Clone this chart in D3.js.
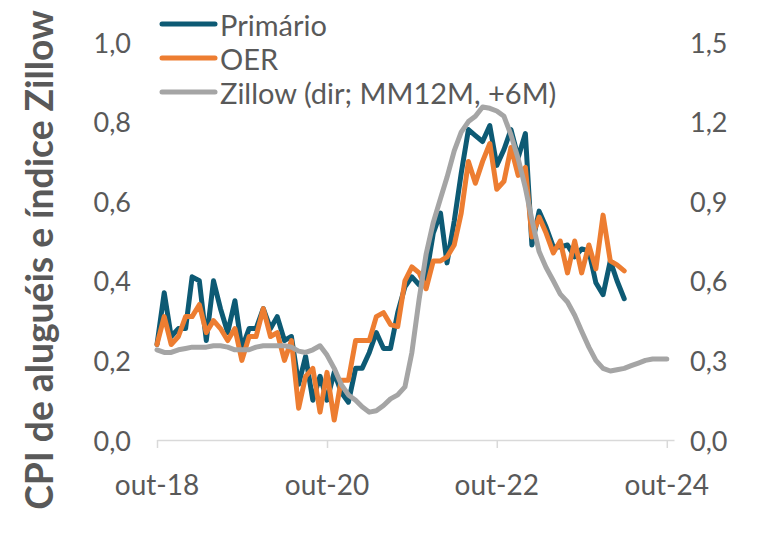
<!DOCTYPE html>
<html><head><meta charset="utf-8">
<script src="https://cdn.jsdelivr.net/npm/d3@7"></script>
<style>
body{margin:0;background:#fff}
svg{display:block}
text{font-family:Lato,'Open Sans',sans-serif;fill:#595959}
</style>
</head><body>
<svg id="c" width="758" height="539"></svg>
<script>
// ---- data (monthly % change) ----
const seriesNames = ["Primário", "OER", "Zillow (dir; MM12M, +6M)"];
const cpiStart = [2018, 9];      // out-18 (month index 0-based)
const zillowStart = [2018, 9];
const primario = [0.24,0.37,0.26,0.28,0.28,0.41,0.40,0.25,0.40,0.33,
  0.27,0.35,0.23,0.28,0.28,0.33,0.28,0.31,0.25,0.26,
  0.14,0.21,0.10,0.16,0.10,0.17,0.12,0.095,0.18,0.18,
  0.22,0.27,0.23,0.23,0.32,0.385,0.41,0.39,0.41,0.52,
  0.57,0.445,0.55,0.67,0.78,0.765,0.75,0.79,0.69,0.73,
  0.78,0.71,0.77,0.49,0.575,0.535,0.485,0.485,0.49,0.46,
  0.48,0.475,0.395,0.365,0.45,0.40,0.355];
const oer = [0.24,0.31,0.24,0.26,0.31,0.31,0.34,0.27,0.30,0.28,
  0.25,0.28,0.20,0.26,0.26,0.33,0.26,0.27,0.20,0.25,
  0.08,0.16,0.18,0.07,0.17,0.05,0.15,0.15,0.25,0.25,
  0.25,0.31,0.32,0.29,0.285,0.40,0.435,0.42,0.38,0.45,
  0.45,0.46,0.49,0.57,0.70,0.645,0.70,0.745,0.63,0.65,
  0.735,0.665,0.685,0.51,0.56,0.52,0.47,0.50,0.42,0.50,
  0.42,0.49,0.43,0.565,0.45,0.44,0.425];
const zillow = [0.34,0.33,0.33,0.34,0.345,0.35,0.35,0.35,0.355,0.355,
  0.35,0.34,0.34,0.34,0.35,0.355,0.355,0.355,0.355,0.35,
  0.335,0.33,0.34,0.355,0.32,0.27,0.21,0.17,0.15,0.125,
  0.105,0.11,0.13,0.155,0.17,0.20,0.33,0.53,0.70,0.82,
  0.91,0.99,1.09,1.16,1.20,1.22,1.255,1.25,1.24,1.22,
  1.15,1.06,0.95,0.83,0.71,0.65,0.60,0.55,0.52,0.47,
  0.41,0.35,0.30,0.27,0.26,0.265,0.27,0.28,0.29,0.30,
  0.305,0.305,0.305];
const leftTicks = [0, 0.2, 0.4, 0.6, 0.8, 1.0];
const rightTicks = [0, 0.3, 0.6, 0.9, 1.2, 1.5];
const xTickLabels = ["out-18", "out-20", "out-22", "out-24"];
const xTickDates = [[2018, 9], [2020, 9], [2022, 9], [2024, 9]];
const yTitle = "CPI de aluguéis e índice Zillow";
const colors = ["#0d5a74", "#ed7d31", "#a5a5a5"];

// ---- layout ----
const L = 157, R = 674, T = 42, B = 440;
const svg = d3.select("#c");
const x = d3.scaleTime().domain([new Date(2018, 9, 1), new Date(2024, 10, 1)]).range([L, R]);
const yL = d3.scaleLinear().domain([0, 1.0]).range([B, T]);
const yR = d3.scaleLinear().domain([0, 1.5]).range([B, T]);
const fmt = v => d3.format(".1f")(v).replace(".", ",");
const toPts = (arr, start) => arr.map((v, i) => ({d: new Date(start[0], start[1] + i, 1), v}));

// axis (bottom)
const xAxis = d3.axisBottom(x)
  .tickValues(xTickDates.map(d => new Date(d[0], d[1], 1)))
  .tickSize(8).tickSizeOuter(0).tickFormat("");
const gx = svg.append("g").attr("transform", `translate(0,${B})`).call(xAxis);
gx.select(".domain").attr("stroke", "#d9d9d9").attr("stroke-width", 1.5);
gx.selectAll(".tick line").attr("stroke", "#d9d9d9").attr("stroke-width", 1.5);
gx.selectAll(".tick text").remove();
svg.append("g").selectAll("text").data(xTickDates).join("text")
  .attr("x", d => x(new Date(d[0], d[1], 1))).attr("y", 484)
  .attr("text-anchor", "middle").attr("dominant-baseline", "central")
  .attr("font-size", 28).text((d, i) => xTickLabels[i]);

// left / right labels
svg.append("g").selectAll("text").data(leftTicks).join("text")
  .attr("x", 131).attr("y", d => yL(d)).attr("text-anchor", "end")
  .attr("dominant-baseline", "central").attr("font-size", 27).text(fmt);
svg.append("g").selectAll("text").data(rightTicks).join("text")
  .attr("x", 690).attr("y", d => yR(d)).attr("text-anchor", "start")
  .attr("dominant-baseline", "central").attr("font-size", 27).text(fmt);

// title
const tt = svg.append("text").attr("font-weight", "bold").attr("font-size", 30)
  .attr("text-anchor", "middle").attr("dominant-baseline", "central")
  .attr("transform", "translate(38,260) rotate(-90)").text(yTitle);
const w = tt.node().getComputedTextLength();
tt.attr("font-size", 30 * 500 / w);

// lines
const lineL = d3.line().x(d => x(d.d)).y(d => yL(d.v));
const lineR = d3.line().x(d => x(d.d)).y(d => yR(d.v));
const sets = [
  {pts: toPts(primario, cpiStart), gen: lineL},
  {pts: toPts(oer, cpiStart), gen: lineL},
  {pts: toPts(zillow, zillowStart), gen: lineR}
];
sets.forEach((s, i) => {
  svg.append("path").attr("d", s.gen(s.pts)).attr("fill", "none")
    .attr("stroke", colors[i]).attr("stroke-width", 5)
    .attr("stroke-linejoin", "round").attr("stroke-linecap", "round");
});

// legend
const lg = svg.append("g").selectAll("g").data(seriesNames).join("g")
  .attr("transform", (d, i) => `translate(162,${24 + i * 34})`);
lg.append("line").attr("x1", 0).attr("x2", 53).attr("stroke", (d, i) => colors[i])
  .attr("stroke-width", 5).attr("stroke-linecap", "round");
lg.append("text").attr("x", 58).attr("dominant-baseline", "central")
  .attr("font-size", 29).text(d => d);
</script>
</body></html>
